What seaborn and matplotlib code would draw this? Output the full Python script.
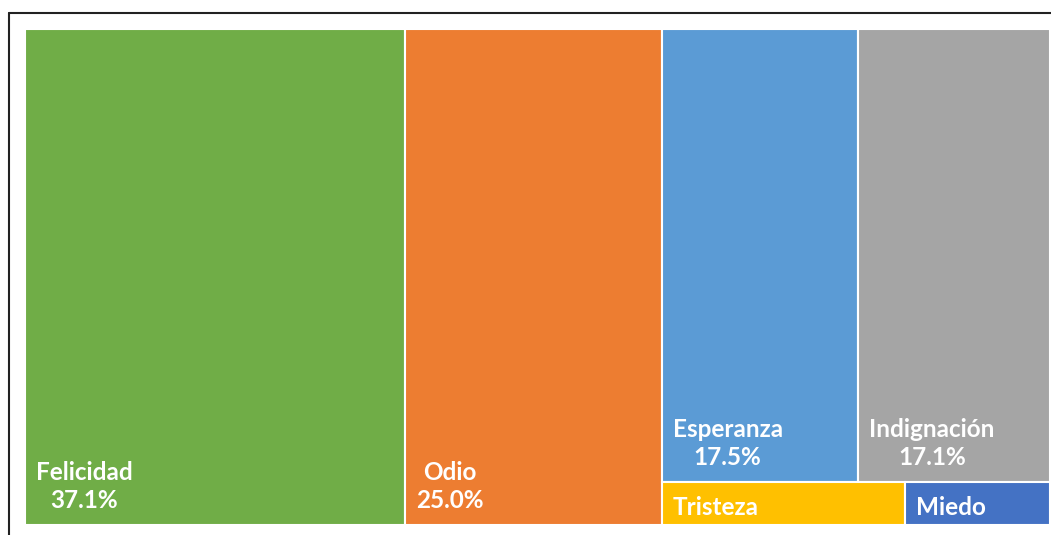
import matplotlib
matplotlib.use('Agg')
import matplotlib.pyplot as plt
import seaborn as sns
from matplotlib.lines import Line2D

# 데이터
categories = ['Felicidad', 'Odio', 'Esperanza', 'Indignación', 'Tristeza', 'Miedo']
values = [37.1, 25.0, 17.5, 17.1, 2.07, 1.23]
show_pct = [True, True, True, True, False, False]
colors = ['#70AD47', '#ED7D31', '#5B9BD5', '#A5A5A5', '#FFC000', '#4472C4']

# 배치: 열 -> 행 -> 항목 인덱스
layout = [[[0]], [[1]], [[2, 3], [4, 5]]]

sns.set_theme(style='white')
plt.rcParams['font.family'] = ['Lato', 'DejaVu Sans']

W, H = 1051, 535
fig = plt.figure(figsize=(W / 100, H / 100), dpi=100)
ax = fig.add_axes([25 / W, 10 / H, 1025 / W, 496 / H])

x0 = 0.0
for col in layout:
    col_total = sum(values[i] for row in col for i in row)
    y_top = 1.0
    for row in col:
        row_total = sum(values[i] for i in row)
        h = row_total / col_total
        xi = x0
        for i in row:
            w = values[i] / row_total * col_total
            ax.bar(xi, h, width=w, bottom=y_top - h, align='edge',
                   color=colors[i], edgecolor='white', linewidth=1.5)
            if show_pct[i]:
                label = f'{categories[i]}\n{values[i]:.1f}%'
                dy = 9
            else:
                label = categories[i]
                dy = 4
            ax.annotate(label, (xi, y_top - h), xytext=(8, dy), textcoords='offset points',
                        ha='left', va='bottom', multialignment='center',
                        color='white', fontsize=17.5, fontweight='bold', linespacing=1.3)
            xi += w
        y_top -= h
    x0 += col_total

ax.set_xlim(0, x0)
ax.set_ylim(0, 1)
ax.axis('off')

# 바깥 테두리
fig.add_artist(Line2D([9 / W, 1], [1 - 13 / H, 1 - 13 / H], color='#222222', lw=1.5))
fig.add_artist(Line2D([9 / W, 9 / W], [0, 1 - 13 / H], color='#222222', lw=1.5))

fig.savefig('out.png', dpi=100, facecolor='white')
